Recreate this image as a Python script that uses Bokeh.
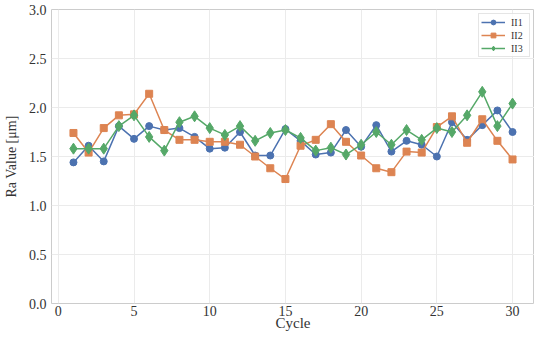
from bokeh.plotting import figure
from bokeh.embed import file_html
from bokeh.resources import INLINE
from bokeh.models import FixedTicker, NumeralTickFormatter, Range1d

cycles = list(range(1, 31))
ii1 = [1.44, 1.61, 1.45, 1.81, 1.68, 1.81, 1.77, 1.79, 1.70, 1.58,
       1.59, 1.75, 1.51, 1.51, 1.78, 1.66, 1.52, 1.54, 1.77, 1.60,
       1.82, 1.55, 1.66, 1.62, 1.50, 1.85, 1.67, 1.82, 1.97, 1.75]
ii2 = [1.74, 1.54, 1.79, 1.92, 1.93, 2.14, 1.77, 1.67, 1.67, 1.65,
       1.65, 1.62, 1.50, 1.38, 1.27, 1.61, 1.67, 1.83, 1.65, 1.51,
       1.38, 1.34, 1.55, 1.54, 1.80, 1.91, 1.64, 1.88, 1.66, 1.47]
ii3 = [1.58, 1.58, 1.58, 1.81, 1.92, 1.70, 1.56, 1.85, 1.91, 1.79,
       1.72, 1.81, 1.66, 1.74, 1.77, 1.69, 1.56, 1.59, 1.52, 1.62,
       1.75, 1.62, 1.77, 1.67, 1.79, 1.75, 1.92, 2.16, 1.81, 2.04]
x_ticks = [0, 5, 10, 15, 20, 25, 30]
y_ticks = [0.0, 0.5, 1.0, 1.5, 2.0, 2.5, 3.0]

FONT = "Liberation Serif"
TXT = "#333333"

p = figure(width=534, height=334, output_backend="svg", toolbar_location=None,
           x_range=Range1d(-0.45, 31.45), y_range=Range1d(0, 3.0),
           min_border_left=46, min_border_right=0, min_border_top=9,
           min_border_bottom=31)

p.line(cycles, ii1, color="#4c72b0", line_width=1.5, legend_label="II1")
p.scatter(cycles, ii1, marker="circle", size=7, color="#4c72b0", legend_label="II1")
p.line(cycles, ii2, color="#dd8452", line_width=1.5, legend_label="II2")
p.scatter(cycles, ii2, marker="square", size=7, color="#dd8452", legend_label="II2")
p.line(cycles, ii3, color="#55a868", line_width=1.5, legend_label="II3")
p.scatter(cycles, ii3, marker="diamond", size=11, color="#55a868", legend_label="II3")

p.xaxis.ticker = FixedTicker(ticks=x_ticks)
p.yaxis.ticker = FixedTicker(ticks=y_ticks)
p.yaxis.formatter = NumeralTickFormatter(format="0.0")
p.xaxis.axis_label = "Cycle"
p.yaxis.axis_label = "Ra Value [μm]"

for ax in (p.xaxis[0], p.yaxis[0]):
    ax.axis_line_color = None
    ax.major_tick_line_color = None
    ax.minor_tick_line_color = None
    ax.major_tick_out = 0
    ax.major_tick_in = 0
    ax.minor_tick_out = 0
    ax.minor_tick_in = 0
    ax.major_label_text_font = FONT
    ax.major_label_text_font_style = "normal"
    ax.major_label_text_font_size = "14px"
    ax.major_label_text_color = TXT
    ax.axis_label_text_font = FONT
    ax.axis_label_text_font_style = "normal"
    ax.axis_label_text_color = TXT
    ax.major_label_standoff = 5

p.yaxis.axis_label_text_font_size = "14px"
p.yaxis.axis_label_standoff = 7
p.xaxis.axis_label_text_font_size = "15px"
p.xaxis.major_label_standoff = 2
p.xaxis.axis_label_standoff = -4

p.grid.grid_line_color = "#ebebeb"
p.grid.grid_line_width = 1
p.outline_line_color = "#cccccc"
p.outline_line_width = 1
p.background_fill_color = "white"
p.border_fill_color = "white"

lg = p.legend[0]
lg.location = "top_right"
lg.margin = 4
lg.padding = 2
lg.spacing = 1
lg.glyph_width = 24
lg.glyph_height = 12
lg.label_width = 16
lg.label_height = 12
lg.label_standoff = 6
lg.label_text_font = FONT
lg.label_text_font_style = "normal"
lg.label_text_font_size = "10px"
lg.label_text_color = TXT
lg.border_line_color = "#cccccc"
lg.background_fill_alpha = 0.8

open("out.html", "w").write(file_html(p, INLINE))
